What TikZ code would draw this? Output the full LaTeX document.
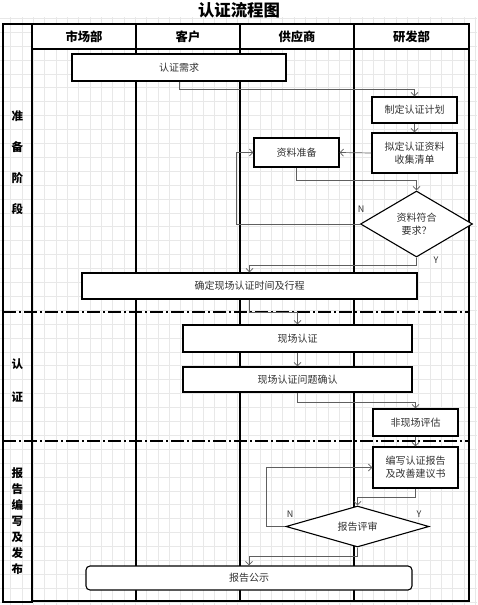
\documentclass[tikz,border=0pt]{standalone}
\usepackage{fontspec}
\setmainfont{Noto Sans CJK SC}
\usetikzlibrary{shapes.geometric,arrows.meta}
\definecolor{gridgray}{RGB}{232,232,232}
\definecolor{linkgray}{RGB}{95,95,95}
\definecolor{textgray}{RGB}{50,50,50}
\begin{document}
\begin{tikzpicture}[x=1pt, y=-1pt, font=\fontsize{10}{12.5}\selectfont,
    stepbox/.style={draw, line width=1.1pt, fill=white, text=textgray, inner sep=0pt, align=center},
    checkbox/.style={diamond, draw, line width=1.1pt, fill=white, text=textgray, inner sep=0pt, align=center, aspect=3},
    headcell/.style={draw, line width=1.3pt, fill=white, inner sep=0pt, minimum height=25pt, font=\fontsize{12.3}{14}\selectfont\bfseries},
    link/.style={draw=linkgray, line width=0.7pt, -{Straight Barb[length=3.5pt,width=7pt]}},
    yn/.style={text=textgray, font=\fontsize{9}{10}\selectfont, inner sep=0pt},
    phase/.style={dash pattern=on 13pt off 3pt on 2pt off 3pt, line width=1.6pt}]
  \useasboundingbox[fill=white] (0,0) rectangle (477,605);
  % background grid
  \foreach \k in {1,...,42} \draw[gridgray, line width=0.7pt] (-0.6+11.33*\k,17) -- (-0.6+11.33*\k,605);
  \foreach \k in {1,...,43} \draw[gridgray, line width=0.7pt] (0,4.4+13.9*\k) -- (477,4.4+13.9*\k);

  \node[font=\fontsize{16.4}{18}\selectfont\bfseries] (title) at (239,10) {认证流程图};

  % frame and lanes
  \draw[line width=1.4pt] (3,24) rectangle (32,602);
  \draw[line width=1.4pt] (32,24) rectangle (469,601);
  \node[headcell, minimum width=104pt] (hmkt) at (84,36.5) {市场部};
  \node[headcell, minimum width=104pt] (hcus) at (188,36.5) {客户};
  \node[headcell, minimum width=114pt] (hsup) at (297,36.5) {供应商};
  \node[headcell, minimum width=115pt] (hdev) at (411.5,36.5) {研发部};
  \draw[line width=1.2pt] (136,49) -- (136,601);
  \draw[line width=1.2pt] (240,49) -- (240,601);
  \draw[line width=1.2pt] (354,49) -- (354,601);
  \draw[phase] (3,312) -- (469,312);
  \draw[phase] (3,441) -- (469,441);

  % phases
  \node[align=center, font=\fontsize{11.5}{31}\selectfont\bfseries] (prep1) at (17.5,163) {准\\备\\阶\\段};
  \node[align=center, font=\fontsize{11.5}{33}\selectfont\bfseries] (prep2) at (17.5,380.5) {认\\证};
  \node[align=center, font=\fontsize{11.5}{16}\selectfont\bfseries] (prep3) at (17.5,521) {报\\告\\编\\写\\及\\发\\布};

  % steps
  \node[stepbox, minimum width=214pt, minimum height=27pt] (req) at (179,67.5) {认证需求};
  \node[stepbox, minimum width=85pt, minimum height=26pt] (plan) at (414.5,110) {制定认证计划};
  \node[stepbox, minimum width=85pt, minimum height=40pt] (list) at (414.5,153) {拟定认证资料\\收集清单};
  \node[stepbox, minimum width=85pt, minimum height=29pt] (docs) at (296.5,152.5) {资料准备};
  \node[checkbox, minimum width=112pt, minimum height=66pt, font=\fontsize{10}{13.3}\selectfont] (chk) at (416.5,224) {资料符合\\要求？};
  \node[stepbox, minimum width=335pt, minimum height=26pt] (sched) at (249.5,286) {确定现场认证时间及行程};
  \node[stepbox, minimum width=229pt, minimum height=27pt] (onsite) at (297.5,338.5) {现场认证};
  \node[stepbox, minimum width=229pt, minimum height=25pt] (issue) at (297.5,379.5) {现场认证问题确认};
  \node[stepbox, minimum width=85pt, minimum height=27pt] (offsite) at (415.5,422.5) {非现场评估};
  \node[stepbox, minimum width=85pt, minimum height=41pt, font=\fontsize{10}{13.3}\selectfont] (report) at (415.5,467.5) {编写认证报告\\及改善建议书};
  \node[checkbox, minimum width=143pt, minimum height=41pt] (review) at (357.5,526.5) {报告评审};
  \node[stepbox, rounded corners=4pt, minimum width=326pt, minimum height=24pt] (pub) at (249,578) {报告公示};

  \node[yn] (n1) at (361,209) {N};
  \node[yn] (y1) at (436,260) {Y};
  \node[yn] (n2) at (290,514) {N};
  \node[yn] (y2) at (419,514) {Y};

  % connectors
  \draw[link] (req.south) -- ++(0,8) -| (plan.north);
  \draw[link] (plan.south) -- (list.north);
  \draw[link] (list.west) -- (docs.east);
  \draw[link] (docs.south) -- ++(0,13) -| (chk.north);
  \draw[link] (chk.west) -- ++(-124,0) |- (docs.west);
  \draw[link] (chk.south) -- ++(0,8) -| (sched.north);
  \draw[link] (sched.south) -- ++(0,13) -| (onsite.north);
  \draw[link] (onsite.south) -- (issue.north);
  \draw[link] (issue.south) -- ++(0,10) -| (offsite.north);
  \draw[link] (offsite.south) -- (report.north);
  \draw[link] (report.south) -- ++(0,9) -| (review.north);
  \draw[link] (review.west) -- ++(-19,0) |- (report.west);
  \draw[link] (review.south) -- ++(0,9) -| (pub.north);
\end{tikzpicture}
\end{document}
